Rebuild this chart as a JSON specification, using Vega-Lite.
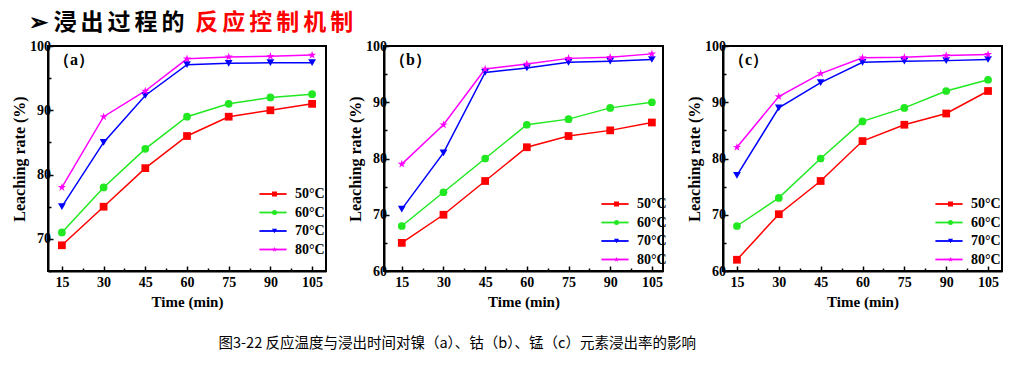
{
  "$schema": "https://vega.github.io/schema/vega-lite/v6.json",
  "background": "white",
  "padding": {"left": 10, "top": 12, "right": 0, "bottom": 0},
  "title": {"text": "图3-22 反应温度与浸出时间对镍（a）、钴（b）、锰（c）元素浸出率的影响", "orient": "bottom", "anchor": "start", "frame": "bounds", "dx": 208, "offset": 27, "font": "Noto Sans CJK SC", "fontSize": 14.5, "fontWeight": "normal", "color": "#000000"},
  "config": {
    "view": {"stroke": "#000000", "strokeWidth": 2},
    "axis": {"labelFont": "Liberation Serif", "labelFontSize": 14, "labelFontWeight": "bold", "labelColor": "#000000", "titleFont": "Liberation Serif", "titleFontSize": 15, "titleFontWeight": "bold", "titleColor": "#000000", "domainColor": "#000000", "domainWidth": 2, "tickColor": "#000000", "tickWidth": 1.5, "grid": false, "labelOverlap": false, "labelFlush": false, "titlePadding": 3},
    "axisX": {"labelPadding": 9},
    "axisY": {"titleFontSize": 16, "titlePadding": 2, "labelPadding": 2.5},
    "legend": {
      "labelFont": "Liberation Serif", "labelFontSize": 14, "labelFontWeight": "bold", "labelColor": "#000000"
    }
  },
  "datasets": {
    "header": [
      {"ch": "➢", "pos": 0, "part": "black"},
      {"ch": "浸", "pos": 1, "part": "black"},
      {"ch": "出", "pos": 2, "part": "black"},
      {"ch": "过", "pos": 3, "part": "black"},
      {"ch": "程", "pos": 4, "part": "black"},
      {"ch": "的", "pos": 5, "part": "black"},
      {"ch": "反", "pos": 6.25, "part": "red"},
      {"ch": "应", "pos": 7.25, "part": "red"},
      {"ch": "控", "pos": 8.25, "part": "red"},
      {"ch": "制", "pos": 9.25, "part": "red"},
      {"ch": "机", "pos": 10.25, "part": "red"},
      {"ch": "制", "pos": 11.25, "part": "red"}
    ],
    "leach": [
      {"panel": "a", "temp": "50°C", "time": 15, "rate": 69},
      {"panel": "a", "temp": "50°C", "time": 30, "rate": 75},
      {"panel": "a", "temp": "50°C", "time": 45, "rate": 81},
      {"panel": "a", "temp": "50°C", "time": 60, "rate": 86},
      {"panel": "a", "temp": "50°C", "time": 75, "rate": 89},
      {"panel": "a", "temp": "50°C", "time": 90, "rate": 90},
      {"panel": "a", "temp": "50°C", "time": 105, "rate": 91},
      {"panel": "a", "temp": "60°C", "time": 15, "rate": 71},
      {"panel": "a", "temp": "60°C", "time": 30, "rate": 78},
      {"panel": "a", "temp": "60°C", "time": 45, "rate": 84},
      {"panel": "a", "temp": "60°C", "time": 60, "rate": 89},
      {"panel": "a", "temp": "60°C", "time": 75, "rate": 91},
      {"panel": "a", "temp": "60°C", "time": 90, "rate": 92},
      {"panel": "a", "temp": "60°C", "time": 105, "rate": 92.5},
      {"panel": "a", "temp": "70°C", "time": 15, "rate": 75},
      {"panel": "a", "temp": "70°C", "time": 30, "rate": 85},
      {"panel": "a", "temp": "70°C", "time": 45, "rate": 92.3},
      {"panel": "a", "temp": "70°C", "time": 60, "rate": 97.1},
      {"panel": "a", "temp": "70°C", "time": 75, "rate": 97.3},
      {"panel": "a", "temp": "70°C", "time": 90, "rate": 97.4},
      {"panel": "a", "temp": "70°C", "time": 105, "rate": 97.4},
      {"panel": "a", "temp": "80°C", "time": 15, "rate": 78},
      {"panel": "a", "temp": "80°C", "time": 30, "rate": 89},
      {"panel": "a", "temp": "80°C", "time": 45, "rate": 93},
      {"panel": "a", "temp": "80°C", "time": 60, "rate": 98},
      {"panel": "a", "temp": "80°C", "time": 75, "rate": 98.3},
      {"panel": "a", "temp": "80°C", "time": 90, "rate": 98.4},
      {"panel": "a", "temp": "80°C", "time": 105, "rate": 98.6},
      {"panel": "b", "temp": "50°C", "time": 15, "rate": 65},
      {"panel": "b", "temp": "50°C", "time": 30, "rate": 70},
      {"panel": "b", "temp": "50°C", "time": 45, "rate": 76},
      {"panel": "b", "temp": "50°C", "time": 60, "rate": 82},
      {"panel": "b", "temp": "50°C", "time": 75, "rate": 84},
      {"panel": "b", "temp": "50°C", "time": 90, "rate": 85},
      {"panel": "b", "temp": "50°C", "time": 105, "rate": 86.4},
      {"panel": "b", "temp": "60°C", "time": 15, "rate": 68},
      {"panel": "b", "temp": "60°C", "time": 30, "rate": 74},
      {"panel": "b", "temp": "60°C", "time": 45, "rate": 80},
      {"panel": "b", "temp": "60°C", "time": 60, "rate": 86},
      {"panel": "b", "temp": "60°C", "time": 75, "rate": 87},
      {"panel": "b", "temp": "60°C", "time": 90, "rate": 89},
      {"panel": "b", "temp": "60°C", "time": 105, "rate": 90},
      {"panel": "b", "temp": "70°C", "time": 15, "rate": 71},
      {"panel": "b", "temp": "70°C", "time": 30, "rate": 81},
      {"panel": "b", "temp": "70°C", "time": 45, "rate": 95.3},
      {"panel": "b", "temp": "70°C", "time": 60, "rate": 96.1},
      {"panel": "b", "temp": "70°C", "time": 75, "rate": 97.1},
      {"panel": "b", "temp": "70°C", "time": 90, "rate": 97.3},
      {"panel": "b", "temp": "70°C", "time": 105, "rate": 97.6},
      {"panel": "b", "temp": "80°C", "time": 15, "rate": 79},
      {"panel": "b", "temp": "80°C", "time": 30, "rate": 86},
      {"panel": "b", "temp": "80°C", "time": 45, "rate": 95.9},
      {"panel": "b", "temp": "80°C", "time": 60, "rate": 96.8},
      {"panel": "b", "temp": "80°C", "time": 75, "rate": 97.8},
      {"panel": "b", "temp": "80°C", "time": 90, "rate": 98},
      {"panel": "b", "temp": "80°C", "time": 105, "rate": 98.6},
      {"panel": "c", "temp": "50°C", "time": 15, "rate": 62},
      {"panel": "c", "temp": "50°C", "time": 30, "rate": 70.1},
      {"panel": "c", "temp": "50°C", "time": 45, "rate": 76},
      {"panel": "c", "temp": "50°C", "time": 60, "rate": 83.1},
      {"panel": "c", "temp": "50°C", "time": 75, "rate": 86},
      {"panel": "c", "temp": "50°C", "time": 90, "rate": 88},
      {"panel": "c", "temp": "50°C", "time": 105, "rate": 92},
      {"panel": "c", "temp": "60°C", "time": 15, "rate": 68},
      {"panel": "c", "temp": "60°C", "time": 30, "rate": 73},
      {"panel": "c", "temp": "60°C", "time": 45, "rate": 80},
      {"panel": "c", "temp": "60°C", "time": 60, "rate": 86.6},
      {"panel": "c", "temp": "60°C", "time": 75, "rate": 89},
      {"panel": "c", "temp": "60°C", "time": 90, "rate": 92},
      {"panel": "c", "temp": "60°C", "time": 105, "rate": 94},
      {"panel": "c", "temp": "70°C", "time": 15, "rate": 77},
      {"panel": "c", "temp": "70°C", "time": 30, "rate": 89},
      {"panel": "c", "temp": "70°C", "time": 45, "rate": 93.5},
      {"panel": "c", "temp": "70°C", "time": 60, "rate": 97.1},
      {"panel": "c", "temp": "70°C", "time": 75, "rate": 97.3},
      {"panel": "c", "temp": "70°C", "time": 90, "rate": 97.4},
      {"panel": "c", "temp": "70°C", "time": 105, "rate": 97.6},
      {"panel": "c", "temp": "80°C", "time": 15, "rate": 82},
      {"panel": "c", "temp": "80°C", "time": 30, "rate": 91},
      {"panel": "c", "temp": "80°C", "time": 45, "rate": 95.1},
      {"panel": "c", "temp": "80°C", "time": 60, "rate": 97.9},
      {"panel": "c", "temp": "80°C", "time": 75, "rate": 98},
      {"panel": "c", "temp": "80°C", "time": 90, "rate": 98.3},
      {"panel": "c", "temp": "80°C", "time": 105, "rate": 98.5}
    ]
  },
  "resolve": {"scale": {"color": "independent", "shape": "independent", "stroke": "independent"}, "legend": {"color": "independent", "shape": "independent", "stroke": "independent"}},
  "spacing": 3,
  "vconcat": [
    {
      "width": 400,
      "height": 20,
      "view": {"stroke": null},
      "data": {"name": "header"},
      "encoding": {
        "x": {"field": "pos", "type": "quantitative", "scale": {"domain": [0.37, 15.19], "nice": false, "zero": false}, "axis": null},
        "text": {"field": "ch"}
      },
      "layer": [
        {"transform": [{"filter": "datum.part === 'black'"}], "mark": {"type": "text", "font": "Noto Sans CJK SC", "fontSize": 23, "fontWeight": "bold", "align": "center", "baseline": "middle", "color": "#000000"}},
        {"transform": [{"filter": "datum.part === 'red'"}], "mark": {"type": "text", "font": "Noto Sans CJK SC", "fontSize": 23, "fontWeight": "bold", "align": "center", "baseline": "middle", "color": "#ff0000"}}
      ]
    },
    {
      "resolve": {"scale": {"color": "independent", "shape": "independent", "stroke": "independent"}, "legend": {"color": "independent", "shape": "independent", "stroke": "independent"}},
      "spacing": 19,
      "hconcat": [
        {
          "width": 278, "height": 225,
          "data": {"name": "leach"},
          "transform": [{"filter": "datum.panel === 'a'"}],
          "title": {"text": "（a）", "anchor": "start", "frame": "group", "offset": -29, "dx": 6, "font": "Liberation Serif", "fontSize": 16, "fontWeight": "bold", "color": "#000000"},
          "encoding": {
            "x": {"field": "time", "type": "quantitative", "scale": {"domain": [10, 110], "nice": false, "zero": false},
              "axis": {"title": "Time (min)", "values": [15, 22.5, 30, 37.5, 45, 52.5, 60, 67.5, 75, 82.5, 90, 97.5, 105], "labelExpr": "datum.value % 15 === 0 ? datum.label : ''", "tickSize": {"condition": {"test": "datum.value % 15 !== 0", "value": -3}, "value": -5}}},
            "y": {"field": "rate", "type": "quantitative", "scale": {"domain": [65, 100], "nice": false, "zero": false},
              "axis": {"title": "Leaching rate (%)", "values": [65, 70, 75, 80, 85, 90, 95, 100], "labelExpr": "datum.value % 10 === 0 ? datum.label : ''", "tickSize": {"condition": {"test": "datum.value % 10 !== 0", "value": -3}, "value": -5}}}
          },
          "layer": [
            {"mark": {"type": "line", "strokeWidth": 1.5},
             "encoding": {"stroke": {"field": "temp", "type": "nominal", "scale": {"range": ["#ff0000", "#22e822", "#0000ff", "#ff00ff"]},
               "legend": {"title": null, "orient": "none", "legendX": 218, "legendY": 141, "symbolType": "M-3.4,0H3.4", "symbolSize": 64, "symbolStrokeWidth": 1.8, "labelOffset": 15, "rowPadding": 4.5}}}},
            {"mark": {"type": "point", "filled": true, "opacity": 1, "size": 60},
             "encoding": {
               "color": {"field": "temp", "type": "nominal", "scale": {"domain": ["50°C", "60°C", "70°C", "80°C"], "range": ["#ff0000", "#22e822", "#0000ff", "#ff00ff"]},
                 "legend": {"title": null, "orient": "none", "legendX": 219.5, "legendY": 141, "symbolSize": 25, "labelOffset": 15, "rowPadding": 4.5, "labelExpr": "' '"}},
               "shape": {"field": "temp", "type": "nominal", "scale": {"domain": ["50°C", "60°C", "70°C", "80°C"], "range": ["square", "circle", "triangle-down", "M0,-1.1L0.25,-0.34L1.05,-0.34L0.4,0.13L0.65,0.89L0,0.42L-0.65,0.89L-0.4,0.13L-1.05,-0.34L-0.25,-0.34Z"]},
                 "legend": {"title": null, "orient": "none", "legendX": 219.5, "legendY": 141, "symbolSize": 25, "labelOffset": 15, "rowPadding": 4.5, "labelExpr": "' '"}}}}
          ]
        },
        {
          "resolve": {"scale": {"color": "independent", "shape": "independent", "stroke": "independent"}, "legend": {"color": "independent", "shape": "independent", "stroke": "independent"}},
          "spacing": 17,
          "hconcat": [
            {
              "width": 279, "height": 225,
              "data": {"name": "leach"},
              "transform": [{"filter": "datum.panel === 'b'"}],
              "title": {"text": "（b）", "anchor": "start", "frame": "group", "offset": -29, "dx": 6, "font": "Liberation Serif", "fontSize": 16, "fontWeight": "bold", "color": "#000000"},
              "encoding": {
                "x": {"field": "time", "type": "quantitative", "scale": {"domain": [8.6, 109], "nice": false, "zero": false},
                  "axis": {"title": "Time (min)", "values": [15, 22.5, 30, 37.5, 45, 52.5, 60, 67.5, 75, 82.5, 90, 97.5, 105], "labelExpr": "datum.value % 15 === 0 ? datum.label : ''", "tickSize": {"condition": {"test": "datum.value % 15 !== 0", "value": -3}, "value": -5}}},
                "y": {"field": "rate", "type": "quantitative", "scale": {"domain": [60, 100], "nice": false, "zero": false},
                  "axis": {"title": "Leaching rate (%)", "values": [60, 65, 70, 75, 80, 85, 90, 95, 100], "labelExpr": "datum.value % 10 === 0 ? datum.label : ''", "tickSize": {"condition": {"test": "datum.value % 10 !== 0", "value": -3}, "value": -5}}}
              },
              "layer": [
                {"mark": {"type": "line", "strokeWidth": 1.5},
                 "encoding": {"stroke": {"field": "temp", "type": "nominal", "scale": {"range": ["#ff0000", "#22e822", "#0000ff", "#ff00ff"]},
                   "legend": {"title": null, "orient": "none", "legendX": 224, "legendY": 151, "symbolType": "M-3.4,0H3.4", "symbolSize": 64, "symbolStrokeWidth": 1.8, "labelOffset": 15, "rowPadding": 4.5}}}},
                {"mark": {"type": "point", "filled": true, "opacity": 1, "size": 60},
                 "encoding": {
                   "color": {"field": "temp", "type": "nominal", "scale": {"domain": ["50°C", "60°C", "70°C", "80°C"], "range": ["#ff0000", "#22e822", "#0000ff", "#ff00ff"]},
                     "legend": {"title": null, "orient": "none", "legendX": 225.5, "legendY": 151, "symbolSize": 25, "labelOffset": 15, "rowPadding": 4.5, "labelExpr": "' '"}},
                   "shape": {"field": "temp", "type": "nominal", "scale": {"domain": ["50°C", "60°C", "70°C", "80°C"], "range": ["square", "circle", "triangle-down", "M0,-1.1L0.25,-0.34L1.05,-0.34L0.4,0.13L0.65,0.89L0,0.42L-0.65,0.89L-0.4,0.13L-1.05,-0.34L-0.25,-0.34Z"]},
                     "legend": {"title": null, "orient": "none", "legendX": 225.5, "legendY": 151, "symbolSize": 25, "labelOffset": 15, "rowPadding": 4.5, "labelExpr": "' '"}}}}
              ]
            },
            {
              "width": 279, "height": 225,
              "data": {"name": "leach"},
              "transform": [{"filter": "datum.panel === 'c'"}],
              "title": {"text": "（c）", "anchor": "start", "frame": "group", "offset": -29, "dx": 6, "font": "Liberation Serif", "fontSize": 16, "fontWeight": "bold", "color": "#000000"},
              "encoding": {
                "x": {"field": "time", "type": "quantitative", "scale": {"domain": [10, 110], "nice": false, "zero": false},
                  "axis": {"title": "Time  (min)", "values": [15, 22.5, 30, 37.5, 45, 52.5, 60, 67.5, 75, 82.5, 90, 97.5, 105], "labelExpr": "datum.value % 15 === 0 ? datum.label : ''", "tickSize": {"condition": {"test": "datum.value % 15 !== 0", "value": -3}, "value": -5}}},
                "y": {"field": "rate", "type": "quantitative", "scale": {"domain": [60, 100], "nice": false, "zero": false},
                  "axis": {"title": "Leaching rate (%)", "values": [60, 65, 70, 75, 80, 85, 90, 95, 100], "labelExpr": "datum.value % 10 === 0 ? datum.label : ''", "tickSize": {"condition": {"test": "datum.value % 10 !== 0", "value": -3}, "value": -5}}}
              },
              "layer": [
                {"mark": {"type": "line", "strokeWidth": 1.5},
                 "encoding": {"stroke": {"field": "temp", "type": "nominal", "scale": {"range": ["#ff0000", "#22e822", "#0000ff", "#ff00ff"]},
                   "legend": {"title": null, "orient": "none", "legendX": 219, "legendY": 151, "symbolType": "M-3.4,0H3.4", "symbolSize": 64, "symbolStrokeWidth": 1.8, "labelOffset": 15, "rowPadding": 4.5}}}},
                {"mark": {"type": "point", "filled": true, "opacity": 1, "size": 60},
                 "encoding": {
                   "color": {"field": "temp", "type": "nominal", "scale": {"domain": ["50°C", "60°C", "70°C", "80°C"], "range": ["#ff0000", "#22e822", "#0000ff", "#ff00ff"]},
                     "legend": {"title": null, "orient": "none", "legendX": 220.5, "legendY": 151, "symbolSize": 25, "labelOffset": 15, "rowPadding": 4.5, "labelExpr": "' '"}},
                   "shape": {"field": "temp", "type": "nominal", "scale": {"domain": ["50°C", "60°C", "70°C", "80°C"], "range": ["square", "circle", "triangle-down", "M0,-1.1L0.25,-0.34L1.05,-0.34L0.4,0.13L0.65,0.89L0,0.42L-0.65,0.89L-0.4,0.13L-1.05,-0.34L-0.25,-0.34Z"]},
                     "legend": {"title": null, "orient": "none", "legendX": 220.5, "legendY": 151, "symbolSize": 25, "labelOffset": 15, "rowPadding": 4.5, "labelExpr": "' '"}}}}
              ]
            }
          ]
        }
      ]
    }
  ]
}
